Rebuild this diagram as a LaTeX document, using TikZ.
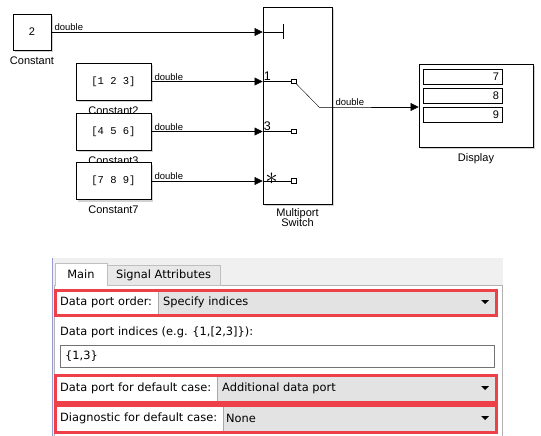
\documentclass[tikz,border=0pt]{standalone}
\usepackage{fontspec}
\setmainfont{DejaVu Sans}
\newfontfamily\slfont{Liberation Sans}
\setmonofont{Liberation Mono}
\usetikzlibrary{arrows.meta,positioning,calc,shadows}

\definecolor{panelbg}{HTML}{F0F0F0}
\definecolor{tabgray}{HTML}{E8E8E8}
\definecolor{ddgray}{HTML}{E3E3E3}
\definecolor{ddline}{HTML}{A8A8A8}
\definecolor{redbox}{HTML}{EE4048}

\begin{document}
\begin{tikzpicture}[x=1pt, y=-1pt, >={Triangle[length=8pt,width=8pt]},
    blk/.style={draw, fill=white, line width=0.8pt,
      drop shadow={shadow xshift=2pt, shadow yshift=-2pt, fill=black!35},
      font=\slfont\fontsize{11}{11}\selectfont},
    cst/.style={blk, minimum width=75pt, minimum height=37pt, font=\ttfamily\fontsize{10.5}{11}\selectfont},
    lbl/.style={font=\slfont\fontsize{11}{12}\selectfont, align=center, inner sep=1pt},
    sig/.style={font=\slfont\fontsize{9.5}{10}\selectfont, anchor=south west, inner sep=1pt, xshift=2pt},
    port/.style={draw, fill=white, line width=0.6pt, minimum size=4.5pt, inner sep=0pt},
    pnum/.style={font=\slfont\fontsize{12.5}{12}\selectfont, anchor=south west, inner sep=1pt},
    fld/.style={draw, line width=0.6pt, text width=73pt, inner xsep=3pt, minimum height=15pt,
      inner ysep=0pt, align=right, font=\slfont\fontsize{11}{11}\selectfont},
    dlg/.style={font=\fontsize{11.4}{13}\selectfont, anchor=west, inner sep=0pt}]
  \useasboundingbox (0,0) rectangle (541,436);

  % model
  \node[blk, minimum width=38pt, minimum height=36pt] (c0) at (32,32) {2};
  \node[lbl, below=5pt of c0] (c0l) {Constant};
  \node[cst] (c2) at (113.5,81.5) {[1 2 3]};
  \node[lbl, below=5pt of c2] (c2l) {Constant2};
  \node[cst] (c3) at (113.5,131.5) {[4 5 6]};
  \node[lbl, below=5pt of c3] (c3l) {Constant3};
  \node[cst] (c7) at (113.5,181) {[7 8 9]};
  \node[lbl, below=5pt of c7] (c7l) {Constant7};

  \node[blk, minimum width=69pt, minimum height=197pt] (sw) at (297.5,105.5) {};
  \node[lbl, below=3pt of sw] (swl) {Multiport\\[-2pt]Switch};
  \node[blk, minimum width=114pt, minimum height=83pt] (disp) at (476,105.5) {};
  \node[lbl, below=5pt of disp] (displ) {Display};
  \foreach \v [count=\i] in {7,8,9}
    \node[fld] (d\v) at (462.5,57.5+19*\i) {\v};

  % inputs
  \coordinate (ctl) at (283,32);
  \node[port] (p1) at (294,81.5) {};
  \node[port] (p3) at (294,131.5) {};
  \node[port] (pd) at (294,181) {};
  \coordinate (swo) at (319,107);

  \draw[->] (c0.east) -- node[sig, pos=0] {double} (c0.east -| sw.west);
  \draw (c0.east -| sw.west) -- (ctl);
  \draw ($(ctl)+(0,-8)$) -- ($(ctl)+(0,7)$);
  \draw[->] (c2.east) -- node[sig, pos=0] {double} (c2.east -| sw.west);
  \draw (c2.east -| sw.west) -- (p1.west);
  \draw[->] (c3.east) -- node[sig, pos=0] {double} (c3.east -| sw.west);
  \draw (c3.east -| sw.west) -- (p3.west);
  \draw[->] (c7.east) -- node[sig, pos=0] {double} (c7.east -| sw.west);
  \draw (c7.east -| sw.west) -- (pd.west);
  \node[pnum] (n1) at (c2.east -| sw.west) {1};
  \node[pnum] (n3) at (c3.east -| sw.west) {3};
  \node[font=\fontsize{24}{24}\selectfont, inner sep=0pt] (nd) at (271.5,178.5) {$\ast$};

  % output
  \draw (p1.south east) -- (swo);
  \draw[->] (swo) -- (sw.east |- swo) node[sig] {double} -- (disp.west |- swo);

  % dialog
  \fill[panelbg] (52,258) rectangle (503,436);
  \draw[black!30, fill=white] (54,285) rectangle (502,440);
  \draw[black!45!blue!40] (52,258) -- (52,436);
  \draw[black!25, fill=tabgray] (107,265) rectangle (220,285);
  \draw[black!25, fill=white] (55,286) -- (55,263) -- (107,263) -- (107,286);
  \node[dlg, anchor=center] (tmain) at (81,274.5) {Main};
  \node[dlg, anchor=center] (tsig) at (163.5,275.5) {Signal Attributes};

  % row 1
  \draw[ddline, fill=ddgray] (158,291) rectangle (495,314);
  \node[dlg] (ordl) at (60,302.5) {Data port order:};
  \node[dlg] (ordv) at (163,302.5) {Specify indices};
  \fill (481,300) -- (489,300) -- (485,304) -- cycle;
  \draw[redbox, line width=3pt] (55,290) rectangle (496,315);

  % row 2
  \node[dlg] (idxl) at (60,332) {Data port indices (e.g. \{1,[2,3]\}):};
  \draw[black!55, fill=white] (60,345) rectangle (494,367);
  \node[dlg] (idxv) at (65,356) {\{1,3\}};

  % row 3
  \draw[ddline, fill=ddgray] (217,376) rectangle (495,401);
  \node[dlg] (defl) at (60,388.5) {Data port for default case:};
  \node[dlg] (defv) at (222,388.5) {Additional data port};
  \fill (481,386) -- (489,386) -- (485,390) -- cycle;
  \draw[redbox, line width=3pt] (55,375) rectangle (496,402);

  % row 4
  \draw[ddline, fill=ddgray] (223,406) rectangle (495,431);
  \node[dlg] (diagl) at (60,418.5) {Diagnostic for default case:};
  \node[dlg] (diagv) at (226,418.5) {None};
  \fill (481,416) -- (489,416) -- (485,420) -- cycle;
  \draw[redbox, line width=3pt] (55,405) rectangle (496,432);
\end{tikzpicture}
\end{document}
